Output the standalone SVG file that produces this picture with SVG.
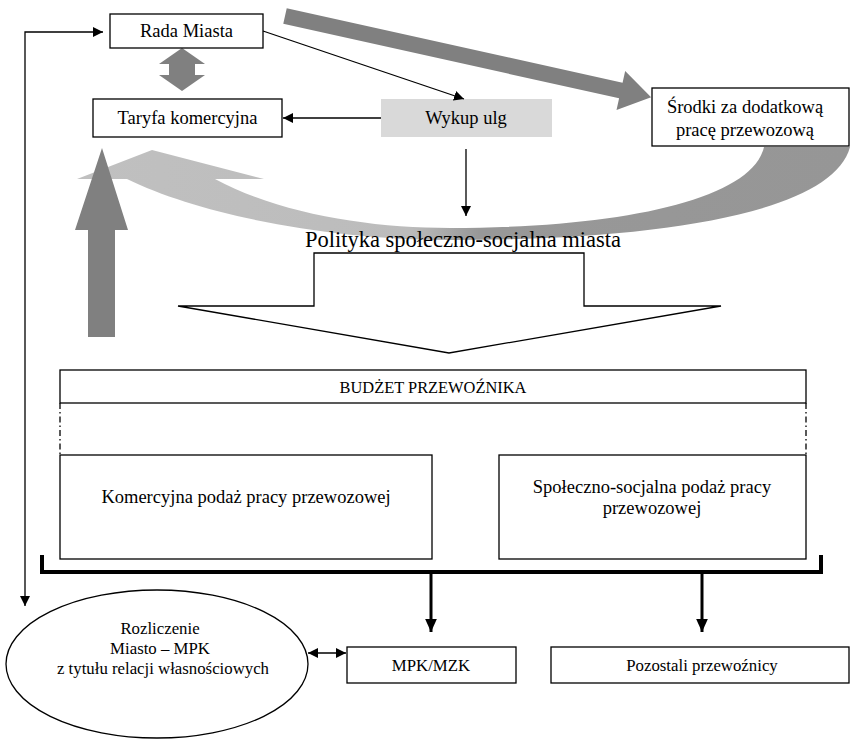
<svg xmlns="http://www.w3.org/2000/svg" width="850" height="739" viewBox="0 0 850 739" font-family="'Liberation Serif', 'Times New Roman', serif">
  <style>
    text { fill: #000; text-anchor: middle; }
    .box { fill: #fff; stroke: #000; stroke-width: 1.3; }
    .ln { fill: none; stroke: #000; stroke-width: 1.3; }
    .thick { fill: none; stroke: #000; stroke-width: 3; }
    .big { fill: #808080; }
  </style>
  <defs>
    <marker id="ah" viewBox="0 0 10 10" refX="10" refY="5" markerWidth="10" markerHeight="10" markerUnits="userSpaceOnUse" orient="auto">
      <path d="M0,0 L10,5 L0,10 Z" fill="#000"/>
    </marker>
    <marker id="ahs" viewBox="0 0 10 10" refX="0" refY="5" markerWidth="10" markerHeight="10" markerUnits="userSpaceOnUse" orient="auto">
      <path d="M10,0 L0,5 L10,10 Z" fill="#000"/>
    </marker>
    <marker id="ahb" viewBox="0 0 10 10" refX="10" refY="5" markerWidth="13" markerHeight="13" markerUnits="userSpaceOnUse" orient="auto">
      <path d="M0,0.5 L10,5 L0,9.5 Z" fill="#000"/>
    </marker>
    <linearGradient id="curveFill" gradientUnits="userSpaceOnUse" x1="77" y1="0" x2="850" y2="0">
      <stop offset="0" stop-color="#c0c0c0"/>
      <stop offset="0.43" stop-color="#bcbcbc"/>
      <stop offset="0.52" stop-color="#989898"/>
      <stop offset="1" stop-color="#969696"/>
    </linearGradient>
  </defs>

  <!-- wide curved return arrow -->
  <path id="curve-arrow" fill="url(#curveFill)" d="M850,147 C832,215 650,240 450,240 C330,240 200,215 127,179 L77,179 L152,150 L264,179 L215,179 C280,214 370,228 450,228 C620,228 752,200 764,147 Z"/>

  <!-- heavy gray arrows -->
  <polygon id="arrow-rada-srodki" class="big" transform="translate(285,16) rotate(12.5)" points="0,-8 344,-8 344,-20 375,0 344,20 344,8 0,8"/>
  <polygon id="arrow-rada-taryfa" class="big" points="182,48 205,64 195,64 195,75 205,75 182,91 159,75 169,75 169,64 159,64"/>
  <polygon id="arrow-up" class="big" points="102,148 128,230 115,230 115,337 88,337 88,230 75,230"/>

  <!-- policy block arrow -->
  <g id="polityka">
    <polygon fill="none" stroke="#000" stroke-width="1.3" points="314,253 584,253 584,306 721,306 449,353 178,306 314,306"/>
    <text x="463" y="247" font-size="22.5">Polityka społeczno-socjalna miasta</text>
  </g>

  <g id="rada-miasta">
    <rect class="box" x="110" y="14" width="153" height="34"/>
    <text x="186.5" y="37" font-size="18.5">Rada Miasta</text>
  </g>
  <g id="taryfa">
    <rect class="box" x="93" y="99" width="189" height="38"/>
    <text x="187.5" y="124" font-size="18.5">Taryfa komercyjna</text>
  </g>
  <g id="wykup-ulg">
    <rect x="381" y="99" width="171" height="38" fill="#d9d9d9"/>
    <text x="466" y="124" font-size="18.5">Wykup ulg</text>
  </g>
  <g id="srodki">
    <rect class="box" x="652" y="88" width="197" height="58"/>
    <text x="745" y="113" font-size="18.5">Środki za dodatkową</text>
    <text x="745" y="136" font-size="18.5">pracę przewozową</text>
  </g>

  <g id="budzet">
    <rect class="box" x="60" y="370" width="746" height="33"/>
    <text x="433" y="393" font-size="16.4">BUDŻET PRZEWOŹNIKA</text>
  </g>
  <g id="komercyjna">
    <rect class="box" x="60" y="455" width="372" height="104"/>
    <text x="246" y="503" font-size="18.5">Komercyjna podaż pracy przewozowej</text>
  </g>
  <g id="spoleczna">
    <rect class="box" x="499" y="455" width="307" height="104"/>
    <text x="652" y="493" font-size="18.5">Społeczno-socjalna podaż pracy</text>
    <text x="652" y="514" font-size="18.5">przewozowej</text>
  </g>

  <g id="rozliczenie">
    <ellipse cx="157" cy="664" rx="151" ry="74" fill="#fff" stroke="#000" stroke-width="1.3"/>
    <text x="160" y="634" font-size="16.8">Rozliczenie</text>
    <text x="160" y="654" font-size="16.8">Miasto – MPK</text>
    <text x="163" y="674" font-size="16.8">z tytułu relacji własnościowych</text>
  </g>
  <g id="mpk">
    <rect class="box" x="347" y="647" width="169" height="36"/>
    <text x="431" y="671" font-size="16.8">MPK/MZK</text>
  </g>
  <g id="pozostali">
    <rect class="box" x="551" y="647" width="298" height="36"/>
    <text x="702" y="671" font-size="16.8">Pozostali przewoźnicy</text>
  </g>

  <g id="connectors">
    <!-- feedback line between the settlement and the city council -->
    <path class="ln" d="M25,606 L25,32 L103,32" marker-start="url(#ahs)" marker-end="url(#ah)"/>
    <path class="ln" d="M263,31 L464,99" marker-end="url(#ah)"/>
    <path class="ln" d="M381,118 L283,118" marker-end="url(#ah)"/>
    <path class="ln" d="M466,149 L466,216" marker-end="url(#ah)"/>
    <!-- dash-dot links from the budget box -->
    <path class="ln" d="M60,403 L60,455 M806,403 L806,455" stroke-dasharray="6,3,1.5,3"/>
    <!-- budget bracket -->
    <path fill="none" stroke="#000" stroke-width="4" d="M42,555 L42,572 L821,572 L821,555"/>
    <path class="thick" d="M431,573 L431,632" marker-end="url(#ahb)"/>
    <path class="thick" d="M702,573 L702,632" marker-end="url(#ahb)"/>
    <path class="ln" d="M308,653 L346,653" marker-start="url(#ahs)" marker-end="url(#ah)"/>
  </g>
</svg>
